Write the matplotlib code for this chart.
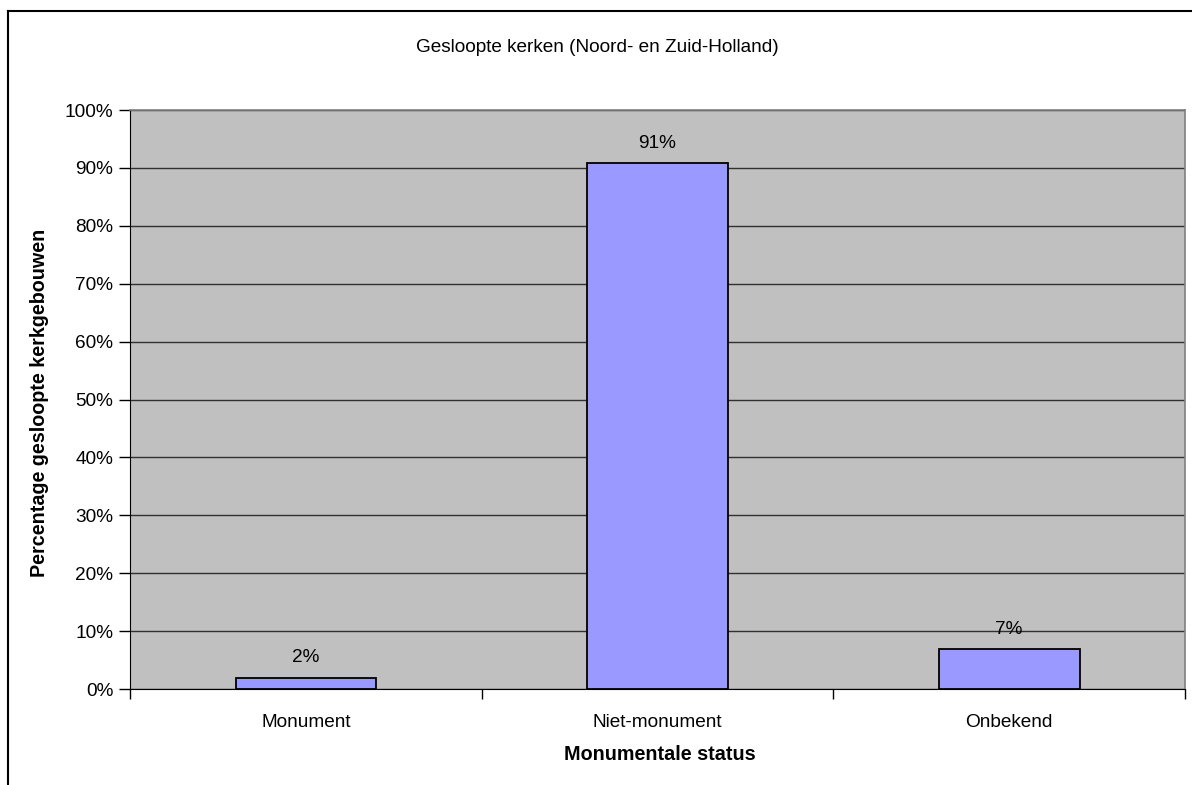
import matplotlib
matplotlib.use("Agg")
import matplotlib.pyplot as plt
from matplotlib.lines import Line2D
import numpy as np

categories = ["Monument", "Niet-monument", "Onbekend"]
values = [1.9, 90.8, 6.9]
labels = ["2%", "91%", "7%"]
yticks = [0, 10, 20, 30, 40, 50, 60, 70, 80, 90, 100]
ytick_labels = [f"{t}%" for t in yticks]

plt.rcParams['font.family'] = ['Liberation Sans', 'DejaVu Sans']

FS = 13.7
FSB = 14.2

W, H = 1192, 785
fig = plt.figure(figsize=(W / 100, H / 100), dpi=100)
fig.patch.set_facecolor("white")

# plot area in pixels: x 130..1185, y 110..689
x0, x1, y0, y1 = 130, 1185, 110, 689
ax = fig.add_axes([x0 / W, 1 - y1 / H, (x1 - x0) / W, (y1 - y0) / H])
ax.set_facecolor("#C0C0C0")

x = np.arange(len(categories))
ax.bar(x, values, width=0.4, color="#9999FF", edgecolor="black", linewidth=1.3, zorder=3)
ax.set_xlim(-0.5, len(categories) - 0.5)
ax.set_ylim(0, 100)

ax.set_yticks(yticks)
ax.set_yticklabels(ytick_labels, fontsize=FS)
ax.yaxis.grid(True, color="#303030", linewidth=1.0, zorder=1)
ax.set_axisbelow(True)

ax.set_xticks(x)
ax.set_xticklabels(categories, fontsize=FS)
ax.tick_params(axis="x", length=0, pad=18)
ax.set_xticks(np.arange(-0.5, len(categories), 1.0), minor=True)
ax.tick_params(axis="x", which="minor", length=7, width=1, color="black", direction="out")
ax.tick_params(axis="y", length=8, width=1, color="black", direction="out", pad=4)

for spine in ["top", "right"]:
    ax.spines[spine].set_color("#808080")
    ax.spines[spine].set_linewidth(1.2)
ax.spines["left"].set_color("black")
ax.spines["bottom"].set_color("black")

for xi, v, lab in zip(x, values, labels):
    ax.annotate(lab, (xi, v), xytext=(0, 20), textcoords="offset pixels",
                ha="center", va="center", fontsize=FS, zorder=4)

fig.text(597 / W, 1 - 48 / H, "Gesloopte kerken (Noord- en Zuid-Holland)",
         ha="center", va="center", fontsize=FS)
fig.text(660 / W, 1 - 754 / H, "Monumentale status",
         ha="center", va="center", fontsize=FSB, fontweight="bold")
fig.text(40 / W, 1 - 403 / H, "Percentage gesloopte kerkgebouwen",
         ha="center", va="center", rotation=90, fontsize=FSB, fontweight="bold")

# outer chart frame (right and bottom edges fall outside the image)
fig.add_artist(Line2D([8 / W, 8 / W], [0, 1 - 11 / H], transform=fig.transFigure,
                      color="black", linewidth=1.5))
fig.add_artist(Line2D([8 / W, 1], [1 - 11 / H, 1 - 11 / H], transform=fig.transFigure,
                      color="black", linewidth=1.5))

fig.savefig("out.png", dpi=100)
